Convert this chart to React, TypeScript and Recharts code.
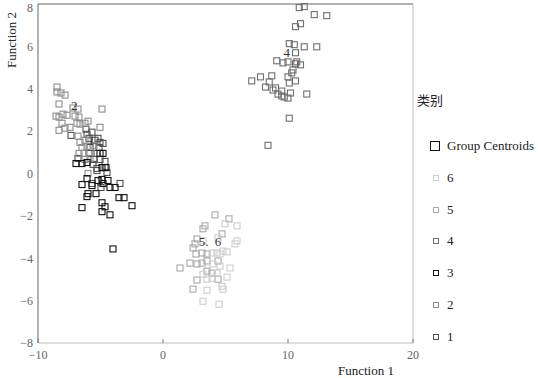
import React from "react"
import { ScatterChart, Scatter, XAxis, YAxis, ReferenceLine } from "recharts"

// group scores on the two discriminant functions
const group1 = [
  { x: -7.36, y: 1.8 }, { x: -6.16, y: 2.09 }, { x: -5.68, y: 1.95 }, { x: -6.08, y: 1.85 },
  { x: -5.92, y: 1.66 }, { x: -5.44, y: 1.57 }, { x: -5.2, y: 1.66 }, { x: -5.04, y: 1.47 },
  { x: -4.8, y: 1.42 }, { x: -5.12, y: 1.23 }, { x: -5.84, y: 1.23 }, { x: -5.92, y: 0.95 },
  { x: -5.28, y: 0.95 }, { x: -5.52, y: 0.66 }, { x: -5.04, y: 0.66 }, { x: -4.64, y: 0.57 },
  { x: -6.8, y: 0.71 }, { x: -5.6, y: 0.43 }, { x: -5.28, y: 0.24 }, { x: -4.64, y: 0.28 },
  { x: -4.48, y: 0.05 }, { x: -5.28, y: 0.14 }, { x: -3.44, y: -0.47 }, { x: -5.68, y: -0.47 },
  { x: -4.96, y: -0.66 },
]
const group2 = [
  { x: -8.48, y: 4.08 }, { x: -8.48, y: 3.85 }, { x: -8.16, y: 3.8 }, { x: -7.84, y: 3.7 },
  { x: -8.32, y: 3.28 }, { x: -8.56, y: 2.71 }, { x: -8.32, y: 2.66 }, { x: -8.0, y: 2.8 },
  { x: -7.68, y: 2.75 }, { x: -8.08, y: 2.37 }, { x: -8.32, y: 2.04 }, { x: -7.84, y: 2.14 },
  { x: -7.44, y: 2.18 }, { x: -7.2, y: 3.09 }, { x: -6.8, y: 3.04 }, { x: -7.04, y: 2.71 },
  { x: -6.72, y: 2.66 }, { x: -6.88, y: 2.37 }, { x: -6.64, y: 2.33 }, { x: -6.24, y: 2.37 },
  { x: -6.0, y: 2.47 }, { x: -5.04, y: 2.18 }, { x: -4.88, y: 3.04 }, { x: -6.8, y: 1.76 },
  { x: -6.64, y: 1.47 }, { x: -6.24, y: 1.57 }, { x: -6.48, y: 1.23 }, { x: -6.08, y: 1.28 },
  { x: -5.52, y: 1.33 }, { x: -6.72, y: 0.95 }, { x: -6.32, y: 0.95 }, { x: -6.24, y: 0.66 },
  { x: -5.84, y: 0.71 }, { x: -6.0, y: 0.0 },
]
const group3 = [
  { x: -6.96, y: 0.47 }, { x: -6.48, y: 0.47 }, { x: -6.08, y: 0.52 }, { x: -5.04, y: 0.95 },
  { x: -4.8, y: 0.95 }, { x: -4.88, y: 0.28 }, { x: -4.56, y: 0.28 }, { x: -6.08, y: -0.24 },
  { x: -6.48, y: -0.52 }, { x: -5.68, y: -0.57 }, { x: -5.36, y: -0.95 }, { x: -6.0, y: -0.95 },
  { x: -6.08, y: -1.09 }, { x: -5.2, y: -0.33 }, { x: -4.88, y: -0.28 }, { x: -4.8, y: -0.47 },
  { x: -4.4, y: -0.33 }, { x: -4.24, y: -0.66 }, { x: -3.84, y: -0.66 }, { x: -3.52, y: -1.14 },
  { x: -3.12, y: -1.14 }, { x: -2.48, y: -1.52 }, { x: -6.48, y: -1.61 }, { x: -4.88, y: -1.8 },
  { x: -4.64, y: -1.57 }, { x: -4.24, y: -1.95 }, { x: -4.0, y: -3.56 }, { x: -4.88, y: -1.38 },
]
const group4 = [
  { x: 10.9, y: 7.83 }, { x: 11.3, y: 7.88 }, { x: 12.1, y: 7.5 }, { x: 13.1, y: 7.45 },
  { x: 10.6, y: 6.93 }, { x: 11.0, y: 7.07 }, { x: 10.1, y: 6.13 }, { x: 10.5, y: 6.08 },
  { x: 11.3, y: 5.98 }, { x: 12.3, y: 5.98 }, { x: 10.6, y: 5.7 }, { x: 9.1, y: 5.32 },
  { x: 9.6, y: 5.22 }, { x: 10.0, y: 5.27 }, { x: 10.7, y: 5.27 }, { x: 11.0, y: 5.13 },
  { x: 10.6, y: 5.18 }, { x: 10.4, y: 4.89 }, { x: 10.3, y: 4.75 }, { x: 7.1, y: 4.37 },
  { x: 7.8, y: 4.56 }, { x: 8.7, y: 4.61 }, { x: 8.5, y: 4.32 }, { x: 8.2, y: 4.08 },
  { x: 10.0, y: 4.56 }, { x: 10.6, y: 4.37 }, { x: 10.1, y: 4.27 }, { x: 8.8, y: 3.94 },
  { x: 9.0, y: 4.04 }, { x: 9.2, y: 3.75 }, { x: 9.5, y: 3.89 }, { x: 9.5, y: 3.66 },
  { x: 9.7, y: 3.61 }, { x: 10.0, y: 3.56 }, { x: 10.2, y: 3.8 }, { x: 11.5, y: 3.75 },
  { x: 10.1, y: 2.61 }, { x: 8.4, y: 1.33 },
]
const group5 = [
  { x: 4.16, y: -1.95 }, { x: 5.28, y: -2.14 }, { x: 3.36, y: -2.47 }, { x: 3.2, y: -2.61 },
  { x: 4.72, y: -2.85 }, { x: 2.72, y: -3.09 }, { x: 2.56, y: -3.32 }, { x: 2.4, y: -3.51 },
  { x: 2.64, y: -3.8 }, { x: 3.12, y: -3.75 }, { x: 2.16, y: -4.23 }, { x: 2.72, y: -4.27 },
  { x: 3.12, y: -4.23 }, { x: 1.36, y: -4.46 }, { x: 3.52, y: -4.61 }, { x: 3.92, y: -4.7 },
  { x: 2.72, y: -5.03 }, { x: 2.4, y: -5.46 }, { x: 4.4, y: -4.99 }, { x: 3.52, y: -4.13 },
  { x: 4.4, y: -4.13 }, { x: 3.52, y: -3.8 },
]
const group6 = [
  { x: 4.96, y: -2.37 }, { x: 5.92, y: -2.47 }, { x: 4.4, y: -3.04 }, { x: 3.2, y: -3.18 },
  { x: 5.92, y: -3.18 }, { x: 5.76, y: -3.32 }, { x: 3.92, y: -3.75 }, { x: 4.32, y: -3.75 },
  { x: 4.56, y: -3.8 }, { x: 5.12, y: -3.7 }, { x: 4.8, y: -3.66 }, { x: 4.0, y: -4.27 },
  { x: 4.56, y: -4.37 }, { x: 5.36, y: -4.46 }, { x: 4.32, y: -4.7 }, { x: 3.2, y: -4.75 },
  { x: 5.12, y: -4.89 }, { x: 3.52, y: -4.99 }, { x: 3.92, y: -4.94 }, { x: 4.72, y: -5.32 },
  { x: 4.8, y: -5.46 }, { x: 3.52, y: -5.51 }, { x: 3.2, y: -6.03 }, { x: 4.48, y: -6.17 },
]
const centroids = [
  { x: -5.76, y: 1.47, label: "1" },
  { x: -7.1, y: 3.13, label: "2" },
  { x: -5.04, y: -0.43, label: "3" },
  { x: 9.9, y: 5.65, label: "4" },
  { x: 3.25, y: -3.3, label: "5." },
  { x: 4.4, y: -3.3, label: "6" },
]

const xTicks = [-10, 0, 10, 20]
const yTicks = [-8, -6, -4, -2, 0, 2, 4, 6, 8]
const legendTitle = "类别"
const legendNames = ["Group Centroids", "6", "5", "4", "3", "2", "1"]

const colors: Record<string, string> = {
  "1": "#505050",
  "2": "#8c8c8c",
  "3": "#101010",
  "4": "#6e6e6e",
  "5": "#a8a8a8",
  "6": "#cdcdcd",
}

const font = "Liberation Serif"
const minus = (v: number) => (v < 0 ? "\u2212" + Math.abs(v) : String(v))

const square = (color: string) => (props: any) => {
  const { cx, cy } = props
  if (cx == null || cy == null) return <g />
  return <rect x={cx - 3} y={cy - 3} width={6} height={6} fill="none" stroke={color} strokeWidth={1.1} />
}

const CentroidText = (props: any) => {
  const { cx, cy, payload } = props
  return (
    <text x={cx} y={cy} textAnchor="middle" dominantBaseline="middle" fontSize={13} fontFamily={font} fill="#333">
      {payload.label}
    </text>
  )
}

const XTick = (props: any) => {
  const { x, y, payload } = props
  return (
    <g>
      <line x1={x} y1={y - 4} x2={x} y2={y - 8} stroke="#777" strokeWidth={1} />
      <text x={x} y={y} dy={12} textAnchor="middle" fontSize={12} fontFamily={font} fill="#666">
        {minus(payload.value)}
      </text>
    </g>
  )
}

const groups: Array<[string, Array<{ x: number; y: number }>]> = [
  ["1", group1], ["2", group2], ["3", group3], ["4", group4], ["5", group5], ["6", group6],
]

export default function App() {
  return (
    <div style={{ position: "absolute", left: 0, top: 0, width: 538, height: 378, background: "#fff", fontFamily: font }}>
      <ScatterChart width={538} height={378} margin={{ top: 4, right: 125, bottom: 15, left: 8 }}>
        <XAxis
          type="number"
          dataKey="x"
          domain={[-10, 20]}
          ticks={xTicks}
          height={20}
          tickSize={0}
          tickMargin={4}
          tick={<XTick />}
          axisLine={{ stroke: "#bbb" }}
          label={(p: any) => {
            const vb = p.viewBox
            return (
              <text x={vb.x + vb.width - 47} y={vb.y + 32} textAnchor="middle" fontSize={13} fontFamily={font} fill="#222">
                Function 1
              </text>
            )
          }}
        />
        <YAxis
          type="number"
          dataKey="y"
          domain={[-8, 8]}
          ticks={yTicks}
          width={30}
          tickSize={0}
          tickMargin={5}
          tickFormatter={minus}
          tick={{ fontSize: 12, fontFamily: font, fill: "#666" }}
          axisLine={{ stroke: "#666" }}
          label={(p: any) => {
            const vb = p.viewBox
            const cx = vb.x + 5
            const cy = vb.y + 36
            return (
              <text x={cx} y={cy} transform={`rotate(-90 ${cx} ${cy})`} textAnchor="middle" dominantBaseline="middle" fontSize={13} fontFamily={font} fill="#222">
                Function 2
              </text>
            )
          }}
        />
        <ReferenceLine y={8} stroke="#666" />
        <ReferenceLine x={20} stroke="#bbb" />
        {groups.map(([name, data]) => (
          <Scatter key={name} name={name} data={data} shape={square(colors[name])} isAnimationActive={false} />
        ))}
        <Scatter name="Group Centroids" data={centroids} shape={<CentroidText />} isAnimationActive={false} />
      </ScatterChart>
      <div style={{ position: "absolute", left: 417, top: 90, fontSize: 13, color: "#222", fontFamily: "Noto Sans CJK SC" }}>
        {legendTitle}
      </div>
      {legendNames.map((n, i) => {
        const big = i === 0
        const size = big ? 10 : 6
        const top = 146 + i * 31.8
        return (
          <div key={n} style={{ position: "absolute", left: 0, top: 0 }}>
            <div
              style={{
                position: "absolute",
                left: 435 - size / 2 - (big ? 0 : -0.5),
                top: top - size / 2,
                width: size,
                height: size,
                border: `${big ? 1.6 : 1.1}px solid ${big ? "#111" : colors[n]}`,
                boxSizing: "border-box",
              }}
            />
            <div style={{ position: "absolute", left: 447, top: top - 9, fontSize: 13, lineHeight: "18px", color: "#222", whiteSpace: "nowrap", fontFamily: font }}>
              {n}
            </div>
          </div>
        )
      })}
    </div>
  )
}
